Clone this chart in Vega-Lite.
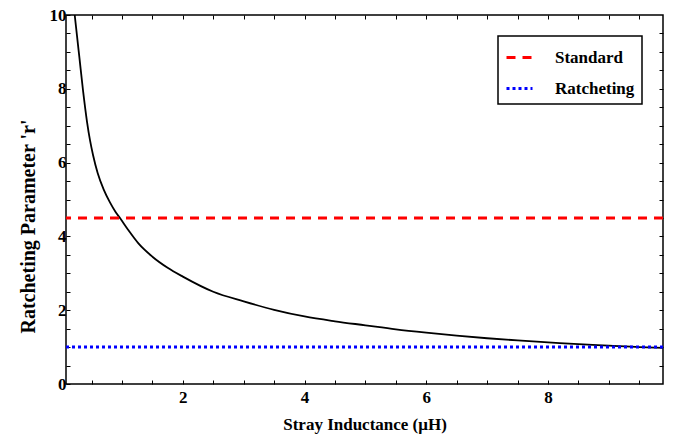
{
  "$schema": "https://vega.github.io/schema/vega-lite/v6.json",
  "width": 597,
  "height": 369,
  "autosize": "none",
  "padding": {"left": 66, "top": 15, "right": 15, "bottom": 50},
  "background": "white",
  "config": {
    "view": {"stroke": "black", "strokeWidth": 1.5},
    "font": "Liberation Serif",
    "axis": {"labelFont": "Liberation Serif", "titleFont": "Liberation Serif"},
    "legend": {"strokeColor": "black", "strokeWidth": 1.5, "labelFont": "Liberation Serif"}
  },
  "datasets": {
    "curve": [
      {"L": 0.223, "r": 10.0}, {"L": 0.26, "r": 9.45}, {"L": 0.30, "r": 8.85}, {"L": 0.36, "r": 7.95},
      {"L": 0.426, "r": 7.1}, {"L": 0.475, "r": 6.6}, {"L": 0.525, "r": 6.2}, {"L": 0.60, "r": 5.72},
      {"L": 0.70, "r": 5.27}, {"L": 0.80, "r": 4.93}, {"L": 0.90, "r": 4.65}, {"L": 0.97, "r": 4.49},
      {"L": 1.1, "r": 4.18}, {"L": 1.27, "r": 3.81}, {"L": 1.5, "r": 3.45}, {"L": 1.75, "r": 3.15},
      {"L": 2.0, "r": 2.91}, {"L": 2.5, "r": 2.50}, {"L": 3.0, "r": 2.24}, {"L": 3.5, "r": 2.01},
      {"L": 4.0, "r": 1.83}, {"L": 4.5, "r": 1.70}, {"L": 5.0, "r": 1.59}, {"L": 5.5, "r": 1.48},
      {"L": 6.0, "r": 1.39}, {"L": 6.5, "r": 1.31}, {"L": 7.0, "r": 1.24}, {"L": 7.5, "r": 1.18},
      {"L": 8.0, "r": 1.13}, {"L": 8.5, "r": 1.08}, {"L": 9.0, "r": 1.04}, {"L": 9.5, "r": 1.0},
      {"L": 9.89, "r": 0.98}
    ],
    "refs": [
      {"series": "Standard", "r": 4.5},
      {"series": "Ratcheting", "r": 1.0}
    ]
  },
  "layer": [
    {
      "data": {"name": "curve"},
      "mark": {"type": "line", "color": "black", "strokeWidth": 1.8, "interpolate": "monotone", "clip": true},
      "encoding": {
        "x": {
          "field": "L", "type": "quantitative",
          "scale": {"domain": [0.08, 9.89], "nice": false, "zero": false},
          "axis": {
            "orient": "bottom",
            "values": [0.5, 1, 1.5, 2, 2.5, 3, 3.5, 4, 4.5, 5, 5.5, 6, 6.5, 7, 7.5, 8, 8.5, 9, 9.5],
            "labelExpr": "datum.value % 2 === 0 ? format(datum.value, 'd') : ''",
            "labelOverlap": false,
            "labelFlush": false,
            "domain": false, "grid": false,
            "tickColor": "black", "tickWidth": 1, "tickSize": -4,
            "labelPadding": 9,
            "labelFont": "Liberation Serif",
            "labelFontSize": 17, "labelFontWeight": "bold", "labelColor": "black",
            "title": "Stray Inductance (μH)",
            "titleFont": "Liberation Serif",
            "titleFontSize": 17, "titleFontWeight": "bold", "titleColor": "black",
            "titleBaseline": "alphabetic", "titleY": 45
          }
        },
        "y": {
          "field": "r", "type": "quantitative",
          "scale": {"domain": [0, 10], "nice": false, "zero": false},
          "axis": {
            "orient": "left",
            "values": [0, 0.5, 1, 1.5, 2, 2.5, 3, 3.5, 4, 4.5, 5, 5.5, 6, 6.5, 7, 7.5, 8, 8.5, 9, 9.5, 10],
            "labelExpr": "datum.value % 2 === 0 ? format(datum.value, 'd') : ''",
            "labelOverlap": false,
            "domain": false, "grid": false,
            "tickColor": "black", "tickWidth": 1, "tickSize": -4,
            "labelPadding": 4,
            "labelFont": "Liberation Serif",
            "labelFontSize": 17, "labelFontWeight": "bold", "labelColor": "black",
            "title": "Ratcheting Parameter 'r'",
            "titleFont": "Liberation Serif",
            "titleFontSize": 20, "titleFontWeight": "bold", "titleColor": "black",
            "titleBaseline": "middle", "titleX": -38, "titleY": 211, "titleAngle": -90
          }
        }
      }
    },
    {
      "data": {"name": "refs"},
      "mark": {"type": "rule", "strokeWidth": 3},
      "encoding": {
        "y": {"field": "r", "type": "quantitative", "axis": null},
        "color": {
          "field": "series", "type": "nominal",
          "scale": {"domain": ["Standard", "Ratcheting"], "range": ["#ff0000", "#0000ff"]},
          "legend": {
            "orient": "none", "legendX": 432, "legendY": 21,
            "title": null,
            "fillColor": "white",
            "padding": 7,
            "symbolType": "stroke", "symbolSize": 676, "symbolStrokeWidth": 3,
            "labelFont": "Liberation Serif",
            "labelFontSize": 17, "labelFontWeight": "bold", "labelColor": "black",
            "labelOffset": 21, "rowPadding": 8
          }
        },
        "strokeDash": {
          "field": "series", "type": "nominal",
          "scale": {"domain": ["Standard", "Ratcheting"], "range": [[9, 7], [3, 3]]},
          "legend": null
        }
      }
    },
    {
      "data": {"name": "curve"},
      "mark": {"type": "point", "opacity": 0},
      "encoding": {
        "x": {
          "field": "L", "type": "quantitative",
          "axis": {
            "orient": "top",
            "values": [0.5, 1, 1.5, 2, 2.5, 3, 3.5, 4, 4.5, 5, 5.5, 6, 6.5, 7, 7.5, 8, 8.5, 9, 9.5],
            "labels": false, "domain": false, "grid": false, "title": null,
            "tickColor": "black", "tickWidth": 1, "tickSize": -4
          }
        },
        "y": {
          "field": "r", "type": "quantitative",
          "axis": {
            "orient": "right",
            "values": [0.5, 1, 1.5, 2, 2.5, 3, 3.5, 4, 4.5, 5, 5.5, 6, 6.5, 7, 7.5, 8, 8.5, 9, 9.5],
            "labels": false, "domain": false, "grid": false, "title": null,
            "tickColor": "black", "tickWidth": 1, "tickSize": -4
          }
        }
      }
    }
  ],
  "resolve": {"axis": {"x": "independent", "y": "independent"}}
}
